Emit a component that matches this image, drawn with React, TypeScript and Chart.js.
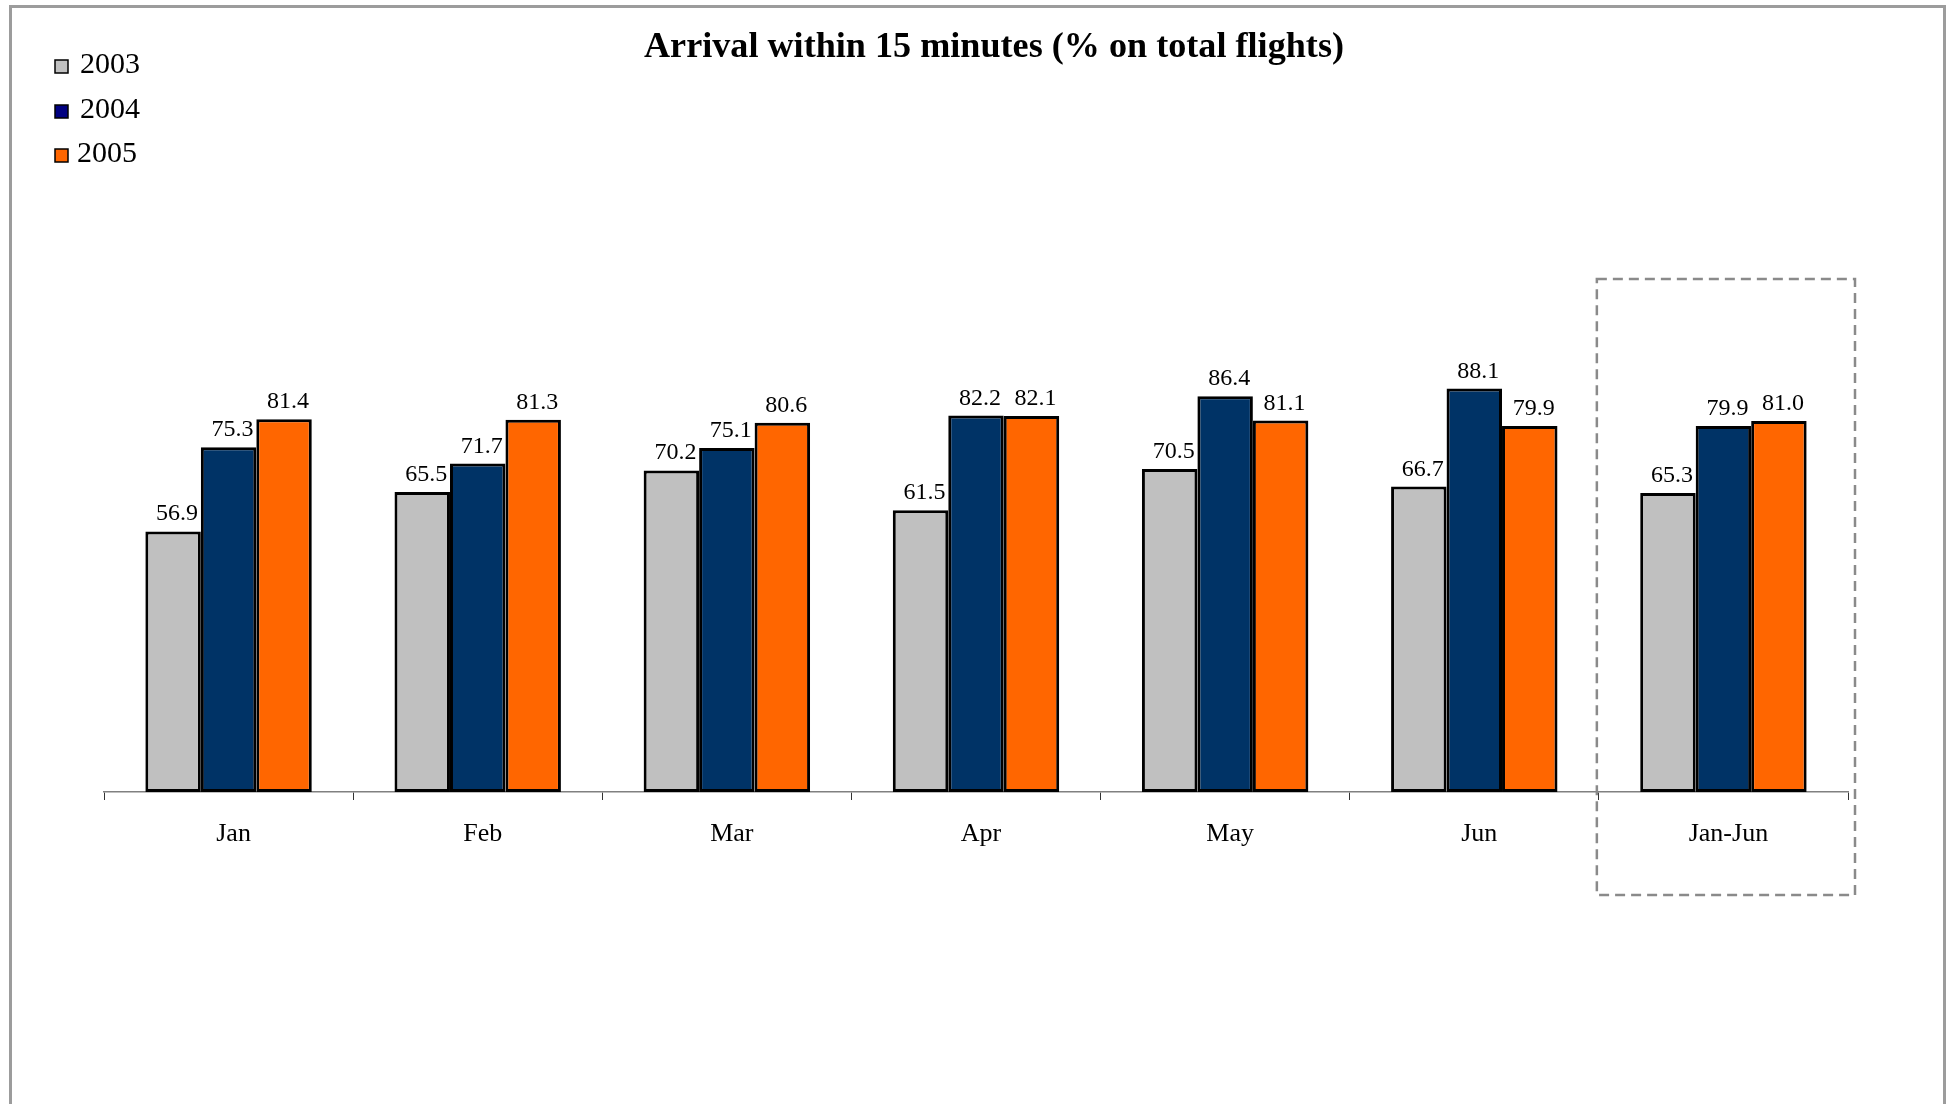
import React, { useEffect, useRef } from "react";
import { Chart, registerables } from "chart.js";

Chart.register(...registerables);

const categories = ["Jan", "Feb", "Mar", "Apr", "May", "Jun", "Jan-Jun"];
const seriesNames = ["2003", "2004", "2005"];
const values2003 = [56.9, 65.5, 70.2, 61.5, 70.5, 66.7, 65.3];
const values2004 = [75.3, 71.7, 75.1, 82.2, 86.4, 88.1, 79.9];
const values2005 = [81.4, 81.3, 80.6, 82.1, 81.1, 79.9, 81.0];
const barColors = ["#C0C0C0", "#003366", "#FF6600"];
const legendColors = ["#C0C0C0", "#000080", "#FF6600"];
const chartTitle = "Arrival within 15 minutes (% on total flights)";
const highlightIndex = 6;

const SERIF = '"Liberation Serif", "Times New Roman", serif';
const W = 1949;
const H = 1104;

const decorPlugin = {
  id: "decor",
  beforeDraw(chart: any) {
    const ctx = chart.ctx;
    ctx.save();
    ctx.fillStyle = "#ffffff";
    ctx.fillRect(0, 0, chart.width, chart.height);
    ctx.strokeStyle = "#9C9C9C";
    ctx.lineWidth = 3;
    ctx.beginPath();
    ctx.moveTo(10.5, chart.height + 10);
    ctx.lineTo(10.5, 6.5);
    ctx.lineTo(1944.5, 6.5);
    ctx.lineTo(1944.5, chart.height + 10);
    ctx.stroke();
    ctx.restore();
  },
  afterDatasetsDraw(chart: any) {
    const ctx = chart.ctx;
    ctx.save();
    ctx.font = `24px ${SERIF}`;
    ctx.fillStyle = "#000";
    ctx.textAlign = "center";
    ctx.textBaseline = "alphabetic";
    chart.data.datasets.forEach((ds: any, di: number) => {
      const meta = chart.getDatasetMeta(di);
      meta.data.forEach((el: any, i: number) => {
        const v = ds.data[i] as number;
        ctx.fillText(v.toFixed(1), el.x + 4, el.y - 11);
      });
    });
    ctx.restore();
  },
  afterDraw(chart: any) {
    const ctx = chart.ctx;
    const xs = chart.scales.x;
    const ys = chart.scales.y;
    ctx.save();
    // Title
    ctx.font = `bold 36px ${SERIF}`;
    ctx.fillStyle = "#000";
    const tw = ctx.measureText(chartTitle).width;
    const sx = 700 / tw;
    ctx.translate(994, 57);
    ctx.scale(sx, 1);
    ctx.textAlign = "center";
    ctx.textBaseline = "alphabetic";
    ctx.fillText(chartTitle, 0, 0);
    ctx.restore();

    // Legend
    ctx.save();
    const legendY = [73, 118, 162];
    const legendTextX = [80, 80, 77];
    seriesNames.forEach((name, i) => {
      const cy = legendY[i] - 6;
      ctx.fillStyle = legendColors[i];
      ctx.fillRect(55, cy - 7, 13, 13);
      ctx.strokeStyle = "#000";
      ctx.lineWidth = 1.5;
      ctx.strokeRect(55, cy - 7, 13, 13);
      ctx.fillStyle = "#000";
      ctx.font = `30px ${SERIF}`;
      ctx.textAlign = "left";
      ctx.textBaseline = "alphabetic";
      ctx.fillText(name, legendTextX[i], legendY[i]);
    });
    ctx.restore();

    // Dashed highlight box
    ctx.save();
    const cw = xs.width / categories.length;
    const cx = xs.getPixelForValue(highlightIndex);
    const left = cx - cw / 2 - 2;
    const right = cx + cw / 2 + 7;
    const top = ys.getPixelForValue(112);
    const bottom = chart.chartArea.bottom + 103;
    ctx.strokeStyle = "#8A8A8A";
    ctx.lineWidth = 2.5;
    ctx.setLineDash([10, 6]);
    ctx.strokeRect(left, top, right - left, bottom - top);
    ctx.restore();
  },
};

export default function App() {
  const ref = useRef<HTMLCanvasElement | null>(null);
  useEffect(() => {
    if (!ref.current) return;
    const chart = new Chart(ref.current, {
      type: "bar",
      data: {
        labels: categories,
        datasets: [values2003, values2004, values2005].map((vals, i) => ({
          label: seriesNames[i],
          data: vals,
          backgroundColor: barColors[i],
          borderColor: "#000",
          borderWidth: 3,
          borderSkipped: false,
          categoryPercentage: 0.668,
          barPercentage: 1,
        })),
      },
      options: {
        responsive: false,
        animation: false,
        devicePixelRatio: 1,
        layout: { padding: { left: 104, right: 101, top: 334, bottom: 0 } },
        plugins: {
          legend: { display: false },
          title: { display: false },
          tooltip: { enabled: false },
        },
        scales: {
          x: {
            grid: {
              display: true,
              drawOnChartArea: false,
              drawTicks: true,
              tickLength: 8,
              color: "#333",
              lineWidth: 1,
            },
            border: { display: true, color: "#808080", width: 1.5 },
            ticks: {
              color: "#000",
              font: { family: SERIF, size: 26 },
              padding: 19,
              labelOffset: 5,
            },
            afterFit: (scale: any) => {
              scale.height = 312;
            },
          },
          y: {
            display: false,
            min: 0,
            max: 100,
          },
        },
      },
      plugins: [decorPlugin],
    });
    return () => chart.destroy();
  }, []);
  return (
    <div style={{ position: "absolute", left: 0, top: 0, width: W, height: H }}>
      <canvas ref={ref} width={W} height={H} style={{ display: "block" }} />
    </div>
  );
}
